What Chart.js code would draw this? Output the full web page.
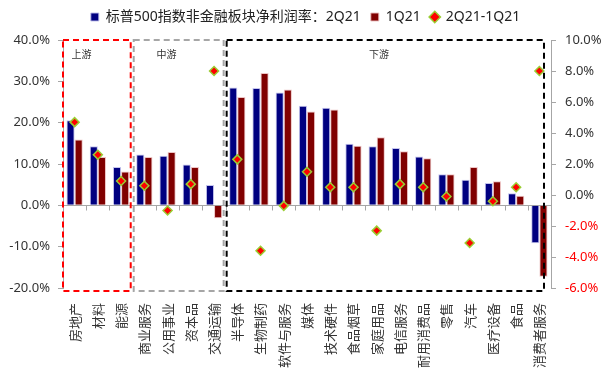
<!DOCTYPE html>
<html>
<head>
<meta charset="utf-8">
<script src="https://cdn.jsdelivr.net/npm/chart.js@4.4.1/dist/chart.umd.min.js"></script>
<style>
  html, body { margin: 0; background: #fff; }
  #wrap { width: 611px; height: 379px; }
</style>
</head>
<body>
<div id="wrap"><canvas id="c"></canvas></div>
<script>
// ── Data ───────────────────────────────────────────────────────────────────
const categories = ['房地产', '材料', '能源', '商业服务', '公用事业', '资本品', '交通运输',
  '半导体', '生物制药', '软件与服务', '媒体', '技术硬件', '食品烟草', '家庭用品', '电信服务',
  '耐用消费品', '零售', '汽车', '医疗设备', '食品', '消费者服务'];

const margin2Q21 = [20.6, 14.3, 9.3, 12.3, 12.0, 9.9, 4.9, 28.5, 28.4, 27.3, 24.1,
  23.6, 14.9, 14.3, 13.9, 11.8, 7.5, 6.2, 5.4, 2.9, -9.2];
const margin1Q21 = [15.9, 11.7, 8.2, 11.7, 12.9, 9.3, -3.1, 26.2, 32.0, 28.0, 22.7,
  23.2, 14.4, 16.5, 13.1, 11.4, 7.5, 9.3, 5.8, 2.3, -17.3];
const marginChange = [4.7, 2.6, 0.9, 0.6, -1.0, 0.7, 8.0, 2.3, -3.6, -0.7, 1.5,
  0.5, 0.5, -2.3, 0.7, 0.5, -0.1, -3.1, -0.4, 0.5, 8.0];

const leftTicks = [-20, -10, 0, 10, 20, 30, 40];
const rightTicks = [-6, -4, -2, 0, 2, 4, 6, 8, 10];

const seriesNames = ['标普500指数非金融板块净利润率：2Q21', '1Q21', '2Q21-1Q21'];

const groupNames = ['上游', '中游', '下游'];
const groupFirst = [0, 3, 7];
const groupLast = [2, 6, 20];

// ── Style ──────────────────────────────────────────────────────────────────
const FONT = "'Noto Sans', 'Noto Sans CJK SC', sans-serif";
const CJK = "'Noto Sans CJK SC', sans-serif";
const TEXT = '#333333';
const AXIS = '#a6a6a6';
const GROUP_STYLE = [
  { color: '#ff0000', labelAt: 0.3, padL: 0, padR: 2 },
  { color: '#a6a6a6', labelAt: 3.95, padL: 1, padR: 2 },
  { color: '#000000', labelAt: 13.1, padL: 1, padR: 7 },
];

// extra room under the legend
const legendGap = {
  id: 'legendGap',
  afterInit(chart) {
    const lg = chart.legend;
    if (!lg) return;
    const fit = lg.fit.bind(lg);
    lg.fit = () => { fit(); lg.height += 6; };
  },
};

// zero line with small tick marks between categories
const zeroLine = {
  id: 'zeroLine',
  beforeDatasetsDraw(chart) {
    const { ctx, chartArea: a, scales: { x, y } } = chart;
    const y0 = Math.round(y.getPixelForValue(0)) + 0.5;
    ctx.save();
    ctx.strokeStyle = AXIS;
    ctx.lineWidth = 1;
    ctx.beginPath();
    ctx.moveTo(a.left, y0);
    ctx.lineTo(a.right, y0);
    for (let i = 0; i < categories.length - 1; i++) {
      const px = Math.round(x.getPixelForValue(i + 0.5)) + 0.5;
      ctx.moveTo(px, y0);
      ctx.lineTo(px, y0 + 5);
    }
    ctx.stroke();
    ctx.restore();
  },
};

// dashed boxes for 上游 / 中游 / 下游
const groupBoxes = {
  id: 'groupBoxes',
  afterDatasetsDraw(chart) {
    const { ctx, chartArea: a, scales: { x } } = chart;
    ctx.save();
    groupNames.forEach((name, i) => {
      const st = GROUP_STYLE[i];
      const l = x.getPixelForValue(groupFirst[i] - 0.5) + st.padL;
      const r = x.getPixelForValue(groupLast[i] + 0.5) - st.padR;
      const t = a.top;
      const b = a.bottom + 3;
      ctx.strokeStyle = st.color;
      ctx.lineWidth = 2;
      ctx.setLineDash([6, 4]);
      ctx.strokeRect(l, t, r - l, b - t);
      ctx.setLineDash([]);
      ctx.fillStyle = TEXT;
      ctx.font = '10px ' + CJK;
      ctx.textAlign = 'center';
      ctx.textBaseline = 'middle';
      ctx.fillText(name, x.getPixelForValue(st.labelAt), t + 14);
    });
    ctx.restore();
  },
};

const pct = (d) => (v) => v.toFixed(d) + '%';

new Chart(document.getElementById('c'), {
  data: {
    labels: categories,
    datasets: [
      {
        type: 'bar', label: seriesNames[0], data: margin2Q21, yAxisID: 'y', order: 1,
        backgroundColor: '#000080', borderColor: 'rgba(190,190,235,0.9)', borderWidth: 1,
        categoryPercentage: 0.7, barPercentage: 1.0, pointStyle: 'rect',
      },
      {
        type: 'bar', label: seriesNames[1], data: margin1Q21, yAxisID: 'y', order: 1,
        backgroundColor: '#800000', borderColor: 'rgba(235,190,190,0.9)', borderWidth: 1,
        categoryPercentage: 0.7, barPercentage: 1.0, pointStyle: 'rect',
      },
      {
        type: 'line', label: seriesNames[2], data: marginChange, yAxisID: 'y1', order: 0,
        showLine: false, pointStyle: 'rectRot', pointRadius: 4.5, pointBorderWidth: 1.5,
        backgroundColor: '#ff0000', borderColor: '#9acd32', borderWidth: 1.5,
      },
    ],
  },
  options: {
    responsive: true,
    maintainAspectRatio: false,
    animation: false,
    layout: { padding: 0 },
    plugins: {
      legend: {
        position: 'top',
        labels: {
          usePointStyle: true, boxWidth: 8, boxHeight: 8, padding: 10,
          color: '#222', font: { family: FONT, size: 14 },
          sort: (a, b) => a.datasetIndex - b.datasetIndex,
        },
      },
      tooltip: { enabled: false },
    },
    scales: {
      x: {
        grid: { display: false },
        border: { display: false },
        ticks: {
          autoSkip: false, minRotation: 90, maxRotation: 90, padding: 7,
          color: TEXT, font: { family: CJK, size: 13 },
        },
        afterFit: (s) => { s.height = 91; },
      },
      y: {
        position: 'left', min: -20, max: 40,
        afterBuildTicks: (s) => { s.ticks = leftTicks.map((v) => ({ value: v })); },
        grid: { drawOnChartArea: false, tickLength: 5, color: AXIS },
        border: { color: AXIS },
        ticks: { callback: pct(1), color: TEXT, padding: 8, font: { family: FONT, size: 13 } },
        afterFit: (s) => { s.width = 63; },
      },
      y1: {
        position: 'right', min: -6, max: 10,
        afterBuildTicks: (s) => { s.ticks = rightTicks.map((v) => ({ value: v })); },
        grid: { drawOnChartArea: false, tickLength: 5, color: AXIS },
        border: { color: AXIS },
        ticks: {
          callback: pct(1), padding: 9, font: { family: FONT, size: 13 },
          color: (c) => (c.tick && c.tick.value < 0 ? '#ff0000' : TEXT),
        },
        afterFit: (s) => { s.width = 60; },
      },
    },
  },
  plugins: [legendGap, zeroLine, groupBoxes],
});
</script>
</body>
</html>
